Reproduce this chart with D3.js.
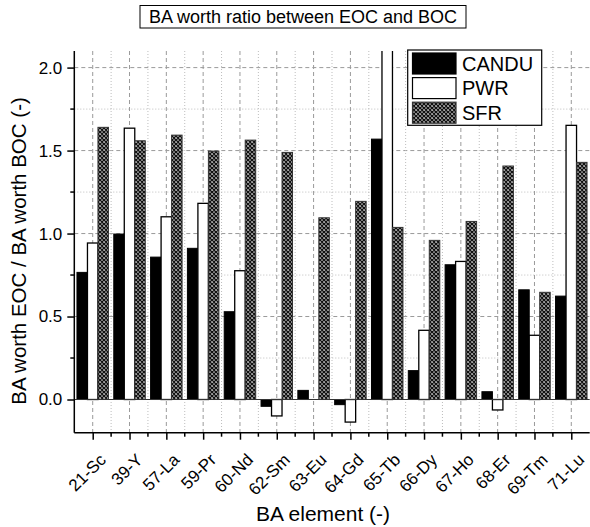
<!DOCTYPE html>
<html><head><meta charset="utf-8">
<script src="https://cdn.jsdelivr.net/npm/d3@7"></script>
<style>body{margin:0;background:#fff;} text{font-family:"Liberation Sans",Arial,sans-serif;}</style>
</head><body><svg id="c" width="590" height="527"></svg>
<script>
const categories = ["21-Sc","39-Y","57-La","59-Pr","60-Nd","62-Sm","63-Eu","64-Gd","65-Tb","66-Dy","67-Ho","68-Er","69-Tm","71-Lu"];
const candu = [0.766,0.997,0.858,0.911,0.529,-0.041,0.055,-0.031,1.569,0.174,0.812,0.047,0.661,0.623];
const pwr   = [0.943,1.635,1.101,1.182,0.776,-0.099,0.0,-0.136,2.6,0.417,0.832,-0.063,0.387,1.652];
const sfr   = [1.640,1.559,1.593,1.497,1.563,1.489,1.095,1.194,1.037,0.959,1.073,1.407,0.646,1.429];
const seriesNames = ["CANDU","PWR","SFR"];
const yMajor = [0.0,0.5,1.0,1.5,2.0];
const yMinor = [0.25,0.75,1.25,1.75];

const FONT = "'Liberation Sans',Arial,sans-serif";
const svg = d3.select("#c");
const L = 74.3, R = 589.7, T = 51, B = 432.7;
const x = d3.scaleLinear().domain([-0.5, categories.length - 0.5]).range([L, R]);
const y = d3.scaleLinear().domain([-0.2, 2.1]).range([B, T]);
const step = x(1) - x(0);
const bw = step * 0.285;

const defs = svg.append("defs");
const P = 4;
const pat = defs.append("pattern").attr("id","hatch").attr("patternUnits","userSpaceOnUse")
  .attr("width",P).attr("height",P);
pat.append("rect").attr("width",P).attr("height",P).attr("fill","#fff");
pat.append("path").attr("d",`M0,0L${P},${P}M${P},0L0,${P}M${-P/2},${P/2}L${P/2},${-P/2}M${P/2},${P*1.5}L${P*1.5},${P/2}M${-P/2},${P/2}L${P/2},${P*1.5}M${P/2},${-P/2}L${P*1.5},${P/2}`)
  .attr("stroke","#111").attr("stroke-width",1.5);
defs.append("clipPath").attr("id","clip").append("rect")
  .attr("x",L).attr("y",T).attr("width",R-L).attr("height",B-T);

// grids
const g = svg.append("g");
g.selectAll(".hmin").data(yMinor).join("line")
  .attr("x1",L).attr("x2",R).attr("y1",d=>y(d)).attr("y2",d=>y(d))
  .attr("stroke","#bdbdbd").attr("stroke-dasharray","1,2");
g.selectAll(".hmaj").data(yMajor.filter(d=>d!==0)).join("line")
  .attr("x1",L).attr("x2",R).attr("y1",d=>y(d)).attr("y2",d=>y(d))
  .attr("stroke","#9a9a9a").attr("stroke-dasharray","4,3");
const xMinor = d3.range(0, categories.length).map(i=>i+0.5).filter(v=>v<categories.length-0.5);
g.selectAll(".vmin").data(xMinor).join("line")
  .attr("x1",d=>x(d)).attr("x2",d=>x(d)).attr("y1",T).attr("y2",B)
  .attr("stroke","#bdbdbd").attr("stroke-dasharray","1,2");
g.selectAll(".vmaj").data(categories).join("line")
  .attr("x1",(d,i)=>x(i)).attr("x2",(d,i)=>x(i)).attr("y1",T).attr("y2",B)
  .attr("stroke","#9a9a9a").attr("stroke-dasharray","4,3");

// bars
const bars = svg.append("g").attr("clip-path","url(#clip)");
const series = [
  {vals:candu, off:-1, fill:"#000", stroke:"#000", sw:1},
  {vals:pwr, off:0, fill:"#fff", stroke:"#000", sw:1.3},
  {vals:sfr, off:1, fill:"url(#hatch)", stroke:"#333", sw:1}
];
series.forEach(s=>{
  bars.selectAll(null).data(s.vals).join("rect")
    .attr("x",(d,i)=>x(i) + s.off*bw - bw/2)
    .attr("width",bw)
    .attr("y",d=>y(Math.max(0,d)))
    .attr("height",d=>Math.abs(y(d)-y(0)))
    .attr("fill",s.fill).attr("stroke",s.stroke).attr("stroke-width",s.sw);
});
// zero line
svg.append("line").attr("x1",L).attr("x2",R).attr("y1",y(0)).attr("y2",y(0))
  .attr("stroke","#333").attr("stroke-width",1);

// y axis
const yAx = svg.append("g").attr("transform",`translate(${L},0)`)
  .call(d3.axisLeft(y).tickValues(yMajor).tickFormat(d3.format(".1f")).tickSize(7).tickPadding(5));
yAx.select(".domain").attr("d",`M0,${B}V${T}`).attr("stroke-width",1.5);
yAx.selectAll(".tick line").attr("stroke-width",1.5);
yAx.selectAll("text").attr("font-size",17).attr("fill","#000").style("font-family",FONT);
svg.append("g").selectAll("line").data(yMinor).join("line")
  .attr("x1",L-4).attr("x2",L).attr("y1",d=>y(d)).attr("y2",d=>y(d))
  .attr("stroke","#000").attr("stroke-width",1.5);

// x axis
const xAx = svg.append("g").attr("transform",`translate(0,${B})`)
  .call(d3.axisBottom(x).tickValues(d3.range(categories.length)).tickFormat(()=>"").tickSize(7));
xAx.select(".domain").attr("d",`M${L},0H${R}`).attr("stroke-width",1.5);
xAx.selectAll(".tick line").attr("stroke-width",1.5);
svg.append("g").selectAll("line").data(xMinor).join("line")
  .attr("x1",d=>x(d)).attr("x2",d=>x(d)).attr("y1",B).attr("y2",B+4)
  .attr("stroke","#000").attr("stroke-width",1.5);
svg.append("g").selectAll("text").data(categories).join("text")
  .attr("transform",(d,i)=>`translate(${x(i)+10},${B+24}) rotate(-45)`)
  .attr("text-anchor","end").attr("dy","0.35em").attr("font-size",17).text(d=>d);

// titles
svg.append("text").attr("x",323).attr("y",521).attr("text-anchor","middle")
  .attr("font-size",21).text("BA element (-)");
svg.append("text").attr("transform",`translate(26,251) rotate(-90)`)
  .attr("text-anchor","middle").attr("font-size",20.5).text("BA worth EOC / BA worth BOC (-)");

// chart title
svg.append("rect").attr("x",140).attr("y",5.5).attr("width",326).attr("height",22.5)
  .attr("fill","#fff").attr("stroke","#000").attr("stroke-width",1);
svg.append("text").attr("x",303).attr("y",23).attr("text-anchor","middle")
  .attr("font-size",18).text("BA worth ratio between EOC and BOC");

// legend
const lg = svg.append("g");
lg.append("rect").attr("x",407.7).attr("y",50).attr("width",134).attr("height",75.3)
  .attr("fill","#fff").attr("stroke","#000").attr("stroke-width",1.2);
const lfill = ["#000","#fff","url(#hatch)"];
seriesNames.forEach((n,i)=>{
  lg.append("rect").attr("x",412.5).attr("y",53 + i*24.6).attr("width",43.5).attr("height",21)
    .attr("fill",lfill[i]).attr("stroke",i===2?"#333":"#000").attr("stroke-width",1.2);
  lg.append("text").attr("x",462).attr("y",70.5 + i*24.6).attr("font-size",20).text(n);
});
</script></body></html>
